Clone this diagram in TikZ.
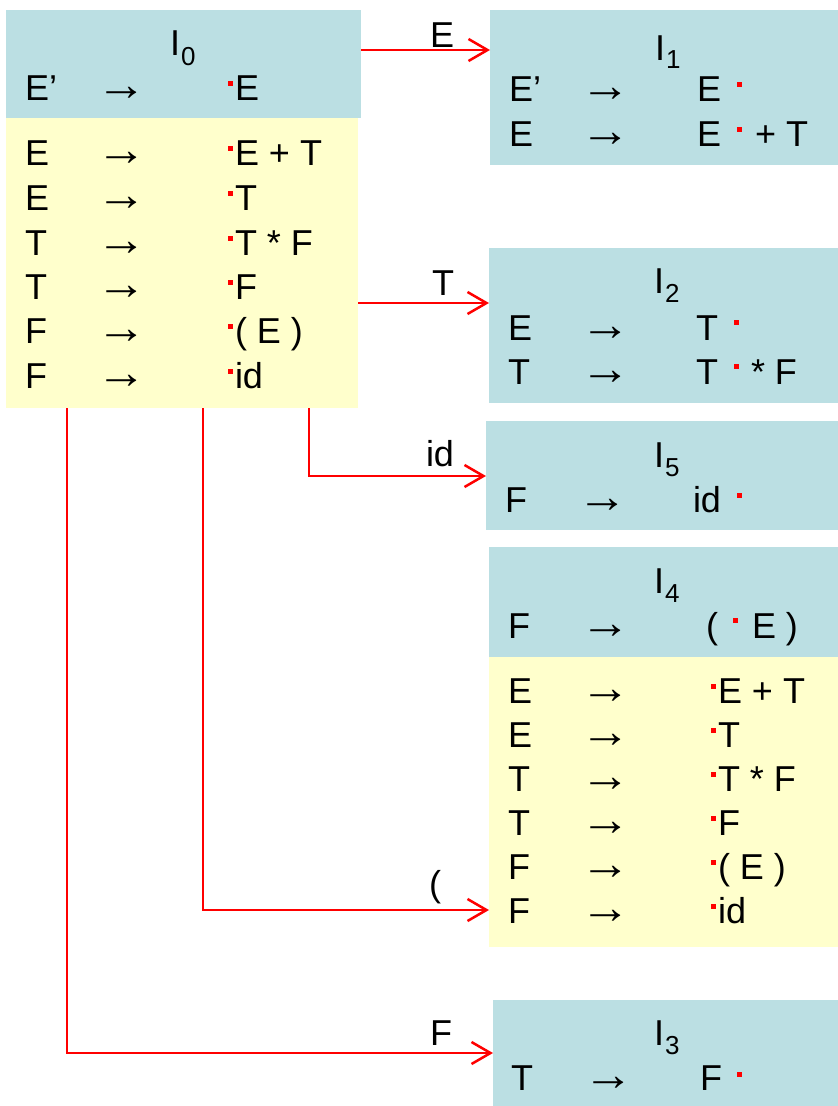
\documentclass[tikz,border=0pt]{standalone}
\usepackage{fontspec}
\setmainfont{Liberation Sans}
\newfontfamily\arrfont{Liberation Serif}
\usetikzlibrary{arrows.meta}
\definecolor{boxblue}{HTML}{BBDFE3}
\definecolor{boxyellow}{HTML}{FFFFCC}
\definecolor{arrred}{HTML}{FF0000}
\newcommand{\myarrow}{\scalebox{1.4}[1.3]{\arrfont →}}
\tikzset{
  box/.style={rectangle, inner sep=0pt, outer sep=0pt, draw=none, anchor=north west},
  bluebox/.style={box, fill=boxblue},
  yellowbox/.style={box, fill=boxyellow},
  txt/.style={anchor=base west, inner sep=0pt, outer sep=0pt, font=\fontsize{36}{40}\selectfont},
  subtxt/.style={anchor=base west, inner sep=0pt, outer sep=0pt, font=\fontsize{26}{28}\selectfont},
  reddot/.style={rectangle, fill=arrred, minimum size=5pt, inner sep=0pt, outer sep=0pt},
  conn/.style={draw=arrred, line width=2.5pt, -{Straight Barb[length=19pt,width=22pt]}}
}
\begin{document}
\begin{tikzpicture}[x=1pt,y=-1pt]
\useasboundingbox (0,0) rectangle (838,1106);
% boxes
\node[bluebox, minimum width=355pt, minimum height=108pt] (I0h) at (6,10) {};
\node[yellowbox, minimum width=352pt, minimum height=290pt] (I0y) at (6,118) {};
\node[bluebox, minimum width=348pt, minimum height=155pt] (I1) at (490,10) {};
\node[bluebox, minimum width=349pt, minimum height=155pt] (I2) at (489,248) {};
\node[bluebox, minimum width=352pt, minimum height=109pt] (I5) at (486,421) {};
\node[bluebox, minimum width=349pt, minimum height=110pt] (I4h) at (489,547) {};
\node[yellowbox, minimum width=349pt, minimum height=290pt] (I4y) at (489,657) {};
\node[bluebox, minimum width=345pt, minimum height=106pt] (I3) at (493,1000) {};

% I0 header
\node[txt] (t0) at (170,55) {I};
\node[subtxt] (t0s) at (181,65) {0};
\node[txt] (h0l) at (25,100) {E’};
\node[txt] (h0a) at (96,100) {\myarrow};
\node[reddot] (h0d) at (230,83) {};
\node[txt] (h0r) at (235,100) {E};
% I0 items
\foreach \i/\y/\l/\r in {1/165/E/{E + T},2/210/E/T,3/255/T/{T * F},4/299/T/F,5/343/F/{( E )},6/388/F/id}{
  \node[txt] (a\i l) at (25,\y) {\l};
  \node[txt] (a\i a) at (96,\y) {\myarrow};
  \node[reddot] (a\i d) at (230,\y-17) {};
  \node[txt] (a\i r) at (235,\y) {\r};
}

% I1
\node[txt] (t1) at (655,60) {I};
\node[subtxt] (t1s) at (666,68) {1};
\node[txt] (b1l) at (509,101) {E’};
\node[txt] (b1a) at (580,101) {\myarrow};
\node[txt] (b1r) at (697,101) {E};
\node[reddot] (b1d) at (739.5,84) {};
\node[txt] (b2l) at (509,146) {E};
\node[txt] (b2a) at (580,146) {\myarrow};
\node[txt] (b2r) at (697,146) {E};
\node[reddot] (b2d) at (739.5,129) {};
\node[txt] (b2s) at (755,146) {+ T};

% I2
\node[txt] (t2) at (654,293) {I};
\node[subtxt] (t2s) at (665,302) {2};
\node[txt] (c1l) at (508,340) {E};
\node[txt] (c1a) at (580,340) {\myarrow};
\node[txt] (c1r) at (696,340) {T};
\node[reddot] (c1d) at (736,322) {};
\node[txt] (c2l) at (508,384) {T};
\node[txt] (c2a) at (580,384) {\myarrow};
\node[txt] (c2r) at (696,384) {T};
\node[reddot] (c2d) at (736,366) {};
\node[txt] (c2s) at (751,384) {* F};

% I5
\node[txt] (t5) at (654,467) {I};
\node[subtxt] (t5s) at (665,476) {5};
\node[txt] (d1l) at (505,512) {F};
\node[txt] (d1a) at (577,512) {\myarrow};
\node[txt] (d1r) at (693,512) {id};
\node[reddot] (d1d) at (739,495) {};

% I4 header
\node[txt] (t4) at (654,593) {I};
\node[subtxt] (t4s) at (665,602) {4};
\node[txt] (e0l) at (508,638) {F};
\node[txt] (e0a) at (580,638) {\myarrow};
\node[txt] (e0p) at (706,638) {(};
\node[reddot] (e0d) at (735.5,620.5) {};
\node[txt] (e0r) at (752,638) {E )};
% I4 items
\foreach \i/\y/\l/\r in {1/703/E/{E + T},2/747/E/T,3/791/T/{T * F},4/835/T/F,5/879/F/{( E )},6/923/F/id}{
  \node[txt] (f\i l) at (508,\y) {\l};
  \node[txt] (f\i a) at (580,\y) {\myarrow};
  \node[reddot] (f\i d) at (713.5,\y-17) {};
  \node[txt] (f\i r) at (718,\y) {\r};
}

% I3
\node[txt] (t3) at (654,1045) {I};
\node[subtxt] (t3s) at (665,1054) {3};
\node[txt] (g1l) at (511,1090) {T};
\node[txt] (g1a) at (583,1090) {\myarrow};
\node[txt] (g1r) at (700,1090) {F};
\node[reddot] (g1d) at (739.5,1074) {};

% connectors
\draw[conn] (I0h.east |- 0,50) -- (I1.west |- 0,50);
\node[txt] (lE) at (430,47) {E};
\draw[conn] (I0y.east |- 0,303) -- (I2.west |- 0,303);
\node[txt] (lT) at (432,295) {T};
\draw[conn] (I0y.south -| 309,0) |- (I5.west |- 0,476);
\node[txt] (lid) at (426,466) {id};
\draw[conn] (I0y.south -| 203,0) |- (I4y.west |- 0,910);
\node[txt] (lp) at (429,896) {(};
\draw[conn] (I0y.south -| 67,0) |- (I3.west |- 0,1053);
\node[txt] (lF) at (430,1045) {F};
\end{tikzpicture}
\end{document}
